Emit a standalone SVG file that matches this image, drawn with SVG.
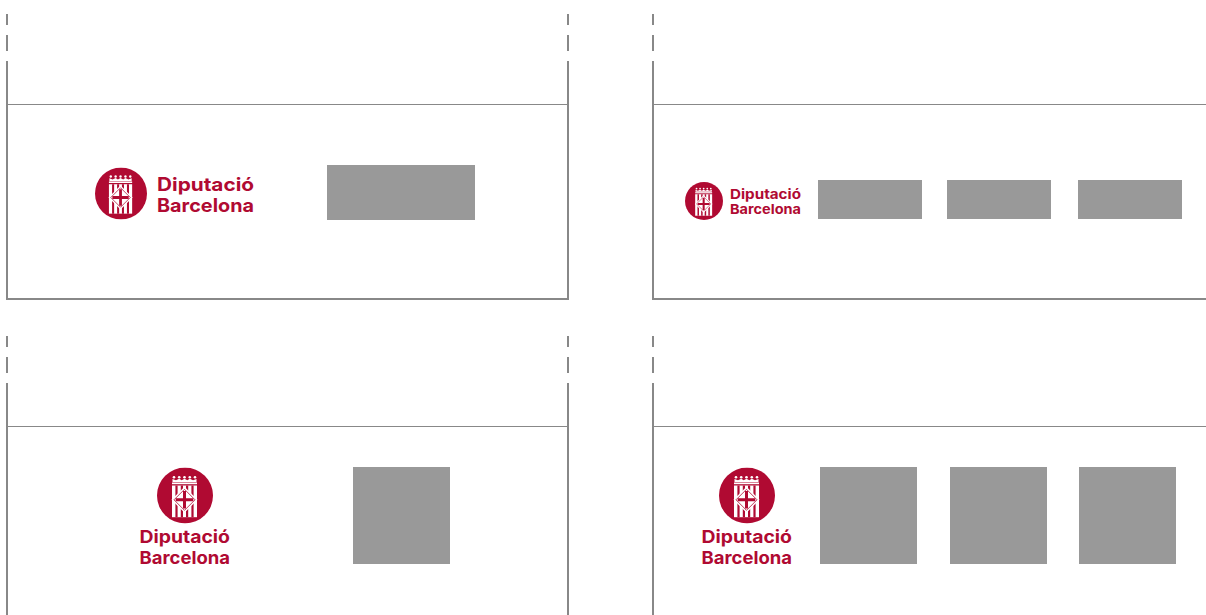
<svg xmlns="http://www.w3.org/2000/svg" xmlns:xlink="http://www.w3.org/1999/xlink" width="1206" height="615" viewBox="0 0 1206 615">
<style>
.l{stroke:#888;stroke-width:2;fill:none}
.h{stroke:#888;stroke-width:1;fill:none}
.b{fill:#999}
.t{font-family:Inter,"Liberation Sans",Arial,sans-serif;font-weight:700;fill:#b00a32}
.r{fill:#b00a32}
.w{fill:#fff}
</style>
<defs>
<symbol id="emblem" viewBox="0 0 56 56">
<circle class="r" cx="28" cy="28" r="28"/>
<g class="w">
<circle cx="17" cy="9.700" r="1.300"/><circle cx="22.200" cy="9.700" r="1.300"/><circle cx="27.500" cy="9.700" r="1.300"/><circle cx="32.800" cy="9.700" r="1.300"/><circle cx="38" cy="9.700" r="1.300"/>
<path d="M15.500 11.500l3.500 1.300 3.200-1.500 2.500 1.500 2.800-1.500 2.800 1.500 2.500-1.500 3.200 1.500 3.500-1.300v3h-24z"/>
<rect x="15" y="15" width="25" height="1.700"/>
<rect x="15" y="18" width="25" height="31.700"/>
</g>
<path class="r" d="M18.400 18h2.200v31.700h-2.200zM23.800 18h2.200v31.700h-2.200zM29 18h2.200v31.700H29zM34.400 18h2.200v31.700h-2.200z"/>
<path class="w" d="M27.500 19.300l13 13-13 13-13-13z"/>
<path d="M27.500 21.800l10.500 10.500-10.500 10.500-10.500-10.500z" fill="none" stroke="#b00a32" stroke-width="0.800"/>
<path class="r" d="M26 23.500h3v7.300h7.300v3H29v7.300h-3v-7.300h-7.300v-3H26z"/>
</symbol>
</defs>
<g id="connectors">
<path class="l" d="M7 14v11M7 35v16M7 61V299H568V61M568 51V35M568 25V14"/>
<path class="h" d="M7 104.500H568"/>
<path class="l" d="M653 14v11M653 35v16M653 61V299H1206"/>
<path class="h" d="M653 104.500H1206"/>
<path class="l" d="M7 336v11M7 357v16M7 383V615M568 336v11M568 357v16M568 383V615"/>
<path class="h" d="M7 426.500H568"/>
<path class="l" d="M653 336v11M653 357v16M653 383V615"/>
<path class="h" d="M653 426.500H1206"/>
</g>
<g id="logo-1">
<use xlink:href="#emblem" href="#emblem" x="95" y="167.500" width="52" height="52"/>
<text class="t" x="157" y="190.500" font-size="18.500" textLength="97" lengthAdjust="spacingAndGlyphs">Diputació</text>
<text class="t" x="157" y="212" font-size="18.500" textLength="97" lengthAdjust="spacingAndGlyphs">Barcelona</text>
</g>
<g id="box-1"><rect class="b" x="327" y="165" width="148" height="55"/></g>
<g id="logo-2">
<use xlink:href="#emblem" href="#emblem" x="685" y="182" width="38" height="38"/>
<text class="t" x="730" y="198.500" font-size="13.500" textLength="71" lengthAdjust="spacingAndGlyphs">Diputació</text>
<text class="t" x="730" y="213.700" font-size="13.500" textLength="71" lengthAdjust="spacingAndGlyphs">Barcelona</text>
</g>
<g id="box-2"><rect class="b" x="818" y="180" width="104" height="39"/></g>
<g id="box-3"><rect class="b" x="947" y="180" width="104" height="39"/></g>
<g id="box-4"><rect class="b" x="1078" y="180" width="104" height="39"/></g>
<g id="logo-3">
<use xlink:href="#emblem" href="#emblem" x="157" y="467.500" width="56" height="56"/>
<text class="t" x="139.500" y="543" font-size="17.500" textLength="90.500" lengthAdjust="spacingAndGlyphs">Diputació</text>
<text class="t" x="139.500" y="563.500" font-size="17.500" textLength="90.500" lengthAdjust="spacingAndGlyphs">Barcelona</text>
</g>
<g id="box-5"><rect class="b" x="353" y="467" width="97" height="97"/></g>
<g id="logo-4">
<use xlink:href="#emblem" href="#emblem" x="719" y="467.500" width="56" height="56"/>
<text class="t" x="701.500" y="543" font-size="17.500" textLength="90.500" lengthAdjust="spacingAndGlyphs">Diputació</text>
<text class="t" x="701.500" y="563.500" font-size="17.500" textLength="90.500" lengthAdjust="spacingAndGlyphs">Barcelona</text>
</g>
<g id="box-6"><rect class="b" x="820" y="467" width="97" height="97"/></g>
<g id="box-7"><rect class="b" x="950" y="467" width="97" height="97"/></g>
<g id="box-8"><rect class="b" x="1079" y="467" width="97" height="97"/></g>
</svg>
